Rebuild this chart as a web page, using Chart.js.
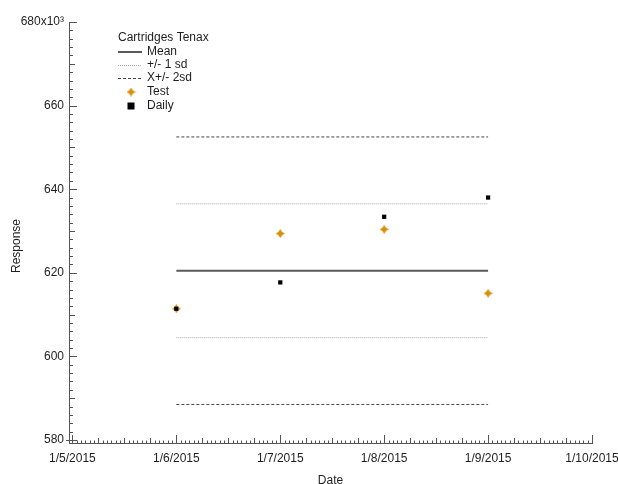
<!DOCTYPE html>
<html>
<head>
<meta charset="utf-8">
<title>Cartridges Tenax</title>
<script src="https://cdn.jsdelivr.net/npm/chart.js@4/dist/chart.umd.min.js"></script>
<style>
  html, body { margin: 0; padding: 0; background: #fff; overflow: hidden; }
  #wrap { width: 618px; height: 484px; }
</style>
</head>
<body>
<div id="wrap"><canvas id="c" width="618" height="484"></canvas></div>
<script>
// ---- data ----
const sampleDates = ['1/6/2015', '1/7/2015', '1/8/2015', '1/9/2015'];
const testValues  = [611.4, 629.4, 630.4, 615.1];
const dailyValues = [611.4, 617.7, 633.4, 638.0];

const meanLevel   = 620.5;
const oneSdLevels = [604.5, 636.5];
const twoSdLevels = [588.5, 652.5];

const xTickLabels = ['1/5/2015', '1/6/2015', '1/7/2015', '1/8/2015', '1/9/2015', '1/10/2015'];
const yTickValues = [580, 600, 620, 640, 660, 680];

const legendTitle = 'Cartridges Tenax';
const yAxisTitle = 'Response';

// dates are d/m/yyyy; the x axis runs in months
const monthOf = s => Number(s.split('/')[1]);
const xFirst = monthOf(sampleDates[0]);
const xLast  = monthOf(sampleDates[sampleDates.length - 1]);

const FONT = '"Liberation Sans", Arial, sans-serif';
const ORANGE = '#d8900c';
const TEXT = '#1e1e1e';

// four-pointed star marker
function makeStar(size, color) {
  const cv = document.createElement('canvas');
  cv.width = size; cv.height = size;
  const g = cv.getContext('2d');
  const c = size / 2, r = size / 2, k = size * 0.2;
  g.fillStyle = color;
  g.beginPath();
  g.moveTo(c, c - r);
  g.lineTo(c + k, c - k);
  g.lineTo(c + r, c);
  g.lineTo(c + k, c + k);
  g.lineTo(c, c + r);
  g.lineTo(c - k, c + k);
  g.lineTo(c - r, c);
  g.lineTo(c - k, c - k);
  g.closePath();
  g.fill();
  return cv;
}
const starMarker = makeStar(9, ORANGE);

function levelLine(level, label, style, legend) {
  return {
    label,
    type: 'scatter',
    showLine: true,
    data: [{ x: xFirst, y: level }, { x: xLast, y: level }],
    borderColor: style.color,
    borderWidth: style.width,
    borderDash: style.dash,
    pointRadius: 0,
    order: 3,
    legendStyle: legend ? style : null
  };
}

const meanStyle = { color: '#5a5a5a', width: 2, dash: [] };
const oneSdStyle = { color: '#a8a8a8', width: 1, dash: [1, 1] };
const twoSdStyle = { color: '#444', width: 1, dash: [3, 2] };

const datasets = [
  {
    label: 'Daily',
    data: sampleDates.map((d, i) => ({ x: monthOf(d), y: dailyValues[i] })),
    pointStyle: 'rect',
    pointRadius: 3,
    pointBackgroundColor: '#000',
    pointBorderWidth: 0,
    showLine: false,
    order: 0,
    legendMarker: 'square'
  },
  {
    label: 'Test',
    data: sampleDates.map((d, i) => ({ x: monthOf(d), y: testValues[i] })),
    pointStyle: starMarker,
    pointRadius: 4.5,
    showLine: false,
    order: 1,
    legendMarker: 'star'
  },
  levelLine(meanLevel, 'Mean', meanStyle, true),
  levelLine(oneSdLevels[1], '+/- 1 sd', oneSdStyle, true),
  levelLine(oneSdLevels[0], '+/- 1 sd', oneSdStyle, false),
  levelLine(twoSdLevels[1], 'X+/- 2sd', twoSdStyle, true),
  levelLine(twoSdLevels[0], 'X+/- 2sd', twoSdStyle, false)
];

// minor / major tick marks pointing into the plot
const axisTicks = {
  id: 'axisTicks',
  afterDatasetsDraw(chart) {
    const { ctx, chartArea: { left, bottom }, scales: { x, y } } = chart;
    ctx.save();
    ctx.strokeStyle = '#555';
    ctx.lineWidth = 1;
    ctx.beginPath();
    const yMin = yTickValues[0], yMax = yTickValues[yTickValues.length - 1];
    for (let i = 0; i <= (yMax - yMin) / 2; i++) {
      const v = yMin + i * 2;
      const py = Math.round(y.getPixelForValue(v)) + 0.5;
      const len = v % 20 === 0 ? 8 : (v % 10 === 0 ? 6 : 4);
      ctx.moveTo(left - (v === yMin ? 3 : 0), py);
      ctx.lineTo(left + len, py);
    }
    const perMonth = 24;
    for (let i = 0; i <= (xTickLabels.length - 1) * perMonth; i++) {
      const v = 5 + i / perMonth;
      const px = Math.round(x.getPixelForValue(v)) + 0.5;
      const len = i % perMonth === 0 ? 8 : (i % 6 === 0 ? 5 : 2.5);
      ctx.moveTo(px, bottom);
      ctx.lineTo(px, bottom - len);
    }
    ctx.stroke();
    ctx.restore();
  }
};

// legend block in the upper-left of the plot, plus the vertical axis title
const legendBlock = {
  id: 'legendBlock',
  afterDraw(chart) {
    const ctx = chart.ctx;
    const x0 = 118, sampleW = 24, textX = 147;
    const titleY = 38, rowY = [52, 65, 78, 92, 106];
    ctx.save();
    ctx.font = '12px ' + FONT;
    ctx.fillStyle = TEXT;
    ctx.textBaseline = 'middle';
    ctx.fillText(legendTitle, x0, titleY);
    const entries = [];
    chart.data.datasets.forEach(ds => {
      if (ds.legendStyle) entries.push({ label: ds.label, line: ds.legendStyle });
    });
    chart.data.datasets.slice().reverse().forEach(ds => {
      if (ds.legendMarker) entries.push({ label: ds.label, marker: ds.legendMarker });
    });
    entries.forEach((e, i) => {
      const yy = rowY[i];
      if (e.line) {
        ctx.strokeStyle = e.line.color;
        ctx.lineWidth = e.line.width;
        ctx.setLineDash(e.line.dash);
        ctx.beginPath();
        const py = e.line.width % 2 ? Math.round(yy) + 0.5 : Math.round(yy);
        ctx.moveTo(x0, py);
        ctx.lineTo(x0 + sampleW, py);
        ctx.stroke();
        ctx.setLineDash([]);
      } else if (e.marker === 'star') {
        ctx.drawImage(starMarker, x0 + sampleW / 2 - 4.5 + 1, yy - 4.5);
      } else if (e.marker === 'square') {
        ctx.fillStyle = '#000';
        ctx.fillRect(x0 + sampleW / 2 - 3.5 + 1, yy - 3.5, 7, 7);
      }
      ctx.fillStyle = TEXT;
      ctx.fillText(e.label, textX, yy);
    });

    ctx.translate(17, 246);
    ctx.rotate(-Math.PI / 2);
    ctx.textAlign = 'center';
    ctx.fillStyle = TEXT;
    ctx.fillText(yAxisTitle, 0, 0);
    ctx.restore();
  }
};

new Chart(document.getElementById('c'), {
  type: 'scatter',
  data: { datasets },
  options: {
    responsive: false,
    animation: false,
    events: [],
    layout: { padding: { top: 22, right: 26, left: 0, bottom: 0 } },
    plugins: { legend: { display: false }, tooltip: { enabled: false } },
    scales: {
      x: {
        type: 'linear',
        min: 4.967,
        max: 10,
        grid: { display: false, drawTicks: false },
        border: { display: true, color: '#555', width: 1 },
        afterBuildTicks: s => { s.ticks = xTickLabels.map((_, i) => ({ value: 5 + i })); },
        afterFit: s => { s.height = 41; s.paddingLeft = 0; s.paddingRight = 0; },
        ticks: {
          autoSkip: false,
          maxRotation: 0,
          padding: 8,
          color: TEXT,
          font: { family: FONT, size: 12 },
          callback: v => xTickLabels[Math.round(v) - 5]
        },
        title: {
          display: true,
          text: 'Date',
          color: TEXT,
          font: { family: FONT, size: 12 },
          padding: { top: -4, bottom: -4 }
        }
      },
      y: {
        type: 'linear',
        min: 579.28,
        max: 680,
        grid: { display: false, drawTicks: false },
        border: { display: true, color: '#555', width: 1 },
        afterBuildTicks: s => { s.ticks = yTickValues.map(v => ({ value: v })); },
        afterFit: s => { s.width = 69; s.paddingTop = 0; s.paddingBottom = 0; },
        ticks: {
          padding: 5,
          color: TEXT,
          font: { family: FONT, size: 12 },
          callback: v => (v === 680 ? '680x10\u00B3' : String(v))
        },
        title: { display: false }
      }
    }
  },
  plugins: [axisTicks, legendBlock]
});
</script>
</body>
</html>
